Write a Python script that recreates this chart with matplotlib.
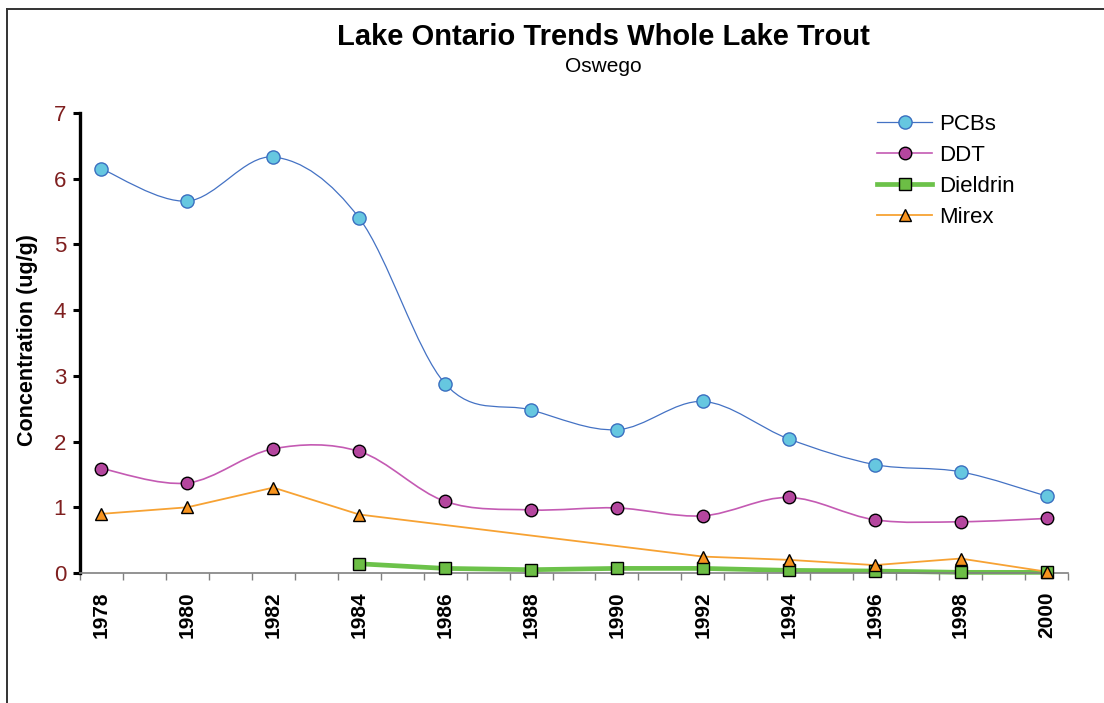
import numpy as np
import matplotlib
matplotlib.use("Agg")
import matplotlib.pyplot as plt
from matplotlib.path import Path
from matplotlib.patches import PathPatch
from matplotlib.lines import Line2D

# ---------------- DATA ----------------
years = np.arange(1978, 2001, 2)
pcbs = [6.15, 5.66, 6.33, 5.40, 2.88, 2.48, 2.18, 2.61, 2.04, 1.65, 1.54, 1.17]
ddt = [1.59, 1.37, 1.89, 1.85, 1.09, 0.96, 0.99, 0.87, 1.15, 0.81, 0.78, 0.83]
dieldrin = [np.nan, np.nan, np.nan, 0.14, 0.07, 0.05, 0.07, 0.07, 0.04, 0.03, 0.01, 0.01]
mirex = [0.90, 1.00, 1.30, 0.89, np.nan, np.nan, np.nan, 0.25, 0.20, 0.12, 0.22, 0.02]
yticks = list(range(0, 8))
xlabels = [str(y) for y in years]

plt.rcParams['font.family'] = ['Liberation Sans', 'DejaVu Sans']


def smooth_path(x, y):
    # Catmull-Rom style bezier through the points (like Excel's smoothed line)
    pts = np.column_stack([x, y])
    n = len(pts)
    verts = [pts[0]]
    codes = [Path.MOVETO]
    for i in range(n - 1):
        p0 = pts[max(i - 1, 0)]
        p1 = pts[i]
        p2 = pts[i + 1]
        p3 = pts[min(i + 2, n - 1)]
        c1 = p1 + (p2 - p0) / 6.0
        c2 = p2 - (p3 - p1) / 6.0
        verts += [c1, c2, p2]
        codes += [Path.CURVE4] * 3
    return Path(verts, codes)


W, H = 1104, 703
fig = plt.figure(figsize=(W / 100, H / 100), dpi=100)
ax = fig.add_axes([80 / W, 1 - 573 / H, (1068 - 80) / W, (573 - 113) / H])

series = [
    ("PCBs", pcbs, True, dict(color='#4472C4', lw=0.9), dict(marker='o', ms=9.5, mfc='#66C7E0', mec='#3A6FC0', mew=1.0)),
    ("DDT", ddt, True, dict(color='#C45AB3', lw=1.2), dict(marker='o', ms=9.0, mfc='#B4469E', mec='black', mew=1.0)),
    ("Dieldrin", dieldrin, False, dict(color='#6CC24A', lw=3.4), dict(marker='s', ms=8.5, mfc='#6CBE45', mec='black', mew=1.0)),
    ("Mirex", mirex, False, dict(color='#F7A233', lw=1.3), dict(marker='^', ms=9.0, mfc='#F7931E', mec='black', mew=1.0)),
]

handles = []
for name, vals, smooth, lstyle, mstyle in series:
    v = np.array(vals, dtype=float)
    ok = ~np.isnan(v)
    xs, ys = years[ok], v[ok]
    if smooth:
        patch = PathPatch(smooth_path(xs, ys), fill=False, edgecolor=lstyle['color'],
                          lw=lstyle['lw'], zorder=2, clip_on=False)
        ax.add_patch(patch)
    else:
        ax.plot(xs, ys, color=lstyle['color'], lw=lstyle['lw'], zorder=2,
                solid_capstyle='butt', clip_on=False)
    ax.plot(xs, ys, ls='none', zorder=3, clip_on=False, **mstyle)
    handles.append(Line2D([], [], color=lstyle['color'], lw=lstyle['lw'], **mstyle))

# one category per year, labels on even years
ax.set_xlim(1977.5, 2000.5)
ax.set_ylim(0, 7)
ax.set_xticks(years)
ax.set_xticklabels(xlabels, rotation=90, fontweight='bold', fontsize=15)
ax.set_xticks(np.arange(1977.5, 2001, 1), minor=True)
ax.tick_params(axis='x', which='major', length=0, pad=13)
ax.tick_params(axis='x', which='minor', length=5, width=1.0, color='#808080', direction='out')

ax.set_yticks(yticks)
ax.tick_params(axis='y', length=5, width=2.2, color='black', labelsize=16,
               labelcolor='#7F1F1F', pad=5)

for s in ['top', 'right']:
    ax.spines[s].set_visible(False)
ax.spines['left'].set_linewidth(2.4)
ax.spines['left'].set_color('black')
ax.spines['bottom'].set_linewidth(1.2)
ax.spines['bottom'].set_color('#808080')

fig.text(28 / W, 1 - 340 / H, "Concentration (ug/g)", rotation=90, fontsize=15.5,
         fontweight='bold', ha='center', va='center')
fig.text(603 / W, 1 - 37 / H, "Lake Ontario Trends Whole Lake Trout", fontsize=21,
         fontweight='bold', ha='center', va='center')
fig.text(603 / W, 1 - 66 / H, "Oswego", fontsize=15, ha='center', va='center')

fig.legend(handles, [s[0] for s in series], loc='upper left',
           bbox_to_anchor=(868 / W, 1 - 105 / H), frameon=False, fontsize=16,
           handlelength=2.5, handletextpad=0.3, labelspacing=0.45, borderaxespad=0)

# outer chart border
fig.add_artist(Line2D([7 / W, 7 / W], [0, 1 - 9 / H], color='#333333', lw=1.4,
                      transform=fig.transFigure))
fig.add_artist(Line2D([7 / W, 1], [1 - 9 / H, 1 - 9 / H], color='#333333', lw=1.4,
                      transform=fig.transFigure))

fig.savefig("out.png", dpi=100)
